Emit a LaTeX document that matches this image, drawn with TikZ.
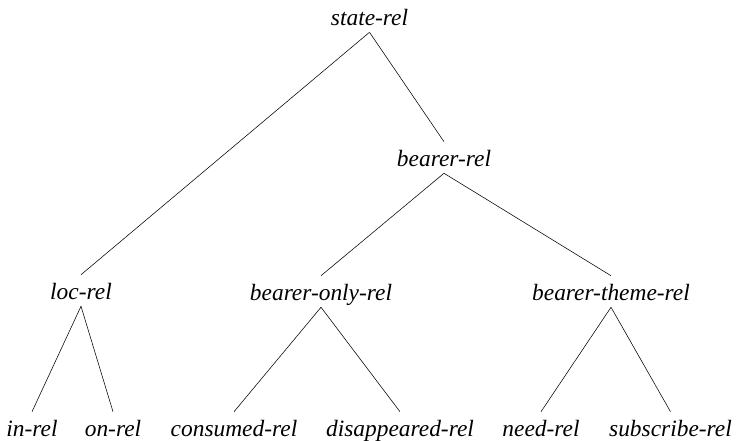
\documentclass[tikz,border=0pt]{standalone}
\usepackage{fontspec}
\setmainfont{Liberation Serif}

\tikzset{
    rel/.style={anchor=base, inner xsep=0pt, inner ysep=4bp,
        text height=21bp, text depth=2bp,
        font=\fontsize{23.5}{28}\selectfont\itshape},
}

\begin{document}
\begin{tikzpicture}[x=1bp, y=1bp, line width=0.55bp]
    \useasboundingbox (0,0) rectangle (737,441);

    % top of the hierarchy
    \node[rel] (state)  at (369.5,415) {state-rel};
    \node[rel] (bearer) at (444,274)   {bearer-rel};

    % middle row
    \node[rel] (loc)    at (81,141)    {loc-rel};
    \node[rel] (only)   at (321,140)   {bearer-only-rel};
    \node[rel] (theme)  at (611,140)   {bearer-theme-rel};

    % leaves
    \node[rel] (in)     at (32,4)      {in-rel};
    \node[rel] (on)     at (113,4)     {on-rel};
    \node[rel] (cons)   at (234,4)     {consumed-rel};
    \node[rel] (disap)  at (400,4)     {disappeared-rel};
    \node[rel] (need)   at (541,4)     {need-rel};
    \node[rel] (subs)   at (670.5,4)   {subscribe-rel};

    \draw (state.south) -- (loc.north);
    \draw (state.south) -- (bearer.north);
    \draw (bearer.south) -- (only.north);
    \draw (bearer.south) -- (theme.north);

    \foreach \p/\c in {loc/in, loc/on, only/cons, only/disap, theme/need, theme/subs}
        \draw (\p.south) -- (\c.north);
\end{tikzpicture}
\end{document}
